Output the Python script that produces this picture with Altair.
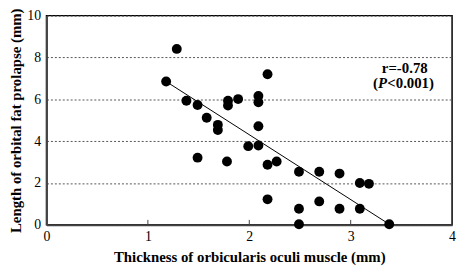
import altair as alt
import pandas as pd

# Data
thickness = [1.18, 1.285, 1.38, 1.49, 1.58, 1.69, 1.69, 1.79, 1.79, 1.89, 2.09, 2.09,
             2.18, 2.09, 1.49, 1.78, 1.99, 2.09, 2.18, 2.27, 2.49, 2.69, 2.89, 3.09,
             3.18, 2.18, 2.49, 2.69, 2.89, 3.09, 2.49, 3.38]
prolapse = [6.85, 8.41, 5.93, 5.73, 5.12, 4.78, 4.53, 5.93, 5.70, 6.01, 6.16, 5.86,
            7.20, 4.71, 3.21, 3.03, 3.76, 3.79, 2.87, 3.03, 2.54, 2.54, 2.45, 2.00,
            1.96, 1.22, 0.77, 1.12, 0.77, 0.77, 0.03, 0.03]
fit_x = [1.18, 3.38]
fit_y = [6.85, 0.03]
x_ticks = [0, 1, 2, 3, 4]
y_ticks = [0, 2, 4, 6, 8, 10]
inner_ticks = [1, 2, 3]

pts = pd.DataFrame({"x": thickness, "y": prolapse})
fit = pd.DataFrame({"x": fit_x, "y": fit_y})

FONT = "Liberation Serif, Times New Roman, serif"

W, H = 411, 212

xs = alt.Scale(domain=[0, 4], nice=False)
ys = alt.Scale(domain=[0, 10], nice=False)

xax = alt.Axis(values=x_ticks, title="Thickness of orbicularis oculi muscle (mm)",
               grid=False, ticks=False, domainColor="#444", domainWidth=2,
               labelFont=FONT, labelFontSize=14, labelColor="black", labelPadding=5,
               titleFont=FONT, titleFontSize=15, titleFontWeight="bold", titleColor="black",
               titlePadding=6, format="d", labelFlush=False)
yax = alt.Axis(values=y_ticks, title="Length of orbital fat prolapse (mm)",
               grid=True, gridColor="#555", gridDash=[2, 2], gridWidth=1,
               ticks=False, domainColor="#444", domainWidth=2,
               labelFont=FONT, labelFontSize=14, labelColor="black", labelPadding=6,
               titleFont=FONT, titleFontSize=15, titleFontWeight="bold", titleColor="black",
               titlePadding=3, format="d", labelFlush=False)

points = alt.Chart(pts).mark_circle(size=100, color="black", opacity=1).encode(
    x=alt.X("x:Q", scale=xs, axis=xax),
    y=alt.Y("y:Q", scale=ys, axis=yax),
)

line = alt.Chart(fit).mark_line(color="black", strokeWidth=1).encode(
    x=alt.X("x:Q", scale=xs), y=alt.Y("y:Q", scale=ys)
)

ticks = alt.Chart(pd.DataFrame({"x": inner_ticks})).mark_rule(color="#444", strokeWidth=1).encode(
    x=alt.X("x:Q", scale=xs), y=alt.value(H - 5), y2=alt.value(H)
)

ann = pd.DataFrame({"x": [3.22]})
common = dict(font=FONT, fontSize=15, fontWeight="bold", align="left", baseline="middle", color="black")
txt_r = alt.Chart(ann).mark_text(text="r=-0.78", dx=9, **common).encode(
    x=alt.X("x:Q", scale=xs), y=alt.value(53))
txt_a = alt.Chart(ann).mark_text(text="(", dx=0, **common).encode(
    x=alt.X("x:Q", scale=xs), y=alt.value(68))
txt_b = alt.Chart(ann).mark_text(text="P", dx=5, fontStyle="italic", **common).encode(
    x=alt.X("x:Q", scale=xs), y=alt.value(68))
txt_c = alt.Chart(ann).mark_text(text="<0.001)", dx=14.5, **common).encode(
    x=alt.X("x:Q", scale=xs), y=alt.value(68))

chart = alt.layer(points, line, ticks, txt_r, txt_a, txt_b, txt_c).properties(
    width=W, height=H,
    autosize=alt.AutoSizeParams(type="none"),
    padding={"left": 39, "top": 6, "right": 6, "bottom": 42},
    background="white",
).configure_view(stroke="black", strokeWidth=1.5)

chart.save("out.html", embed_options={"renderer": "svg", "actions": False})
